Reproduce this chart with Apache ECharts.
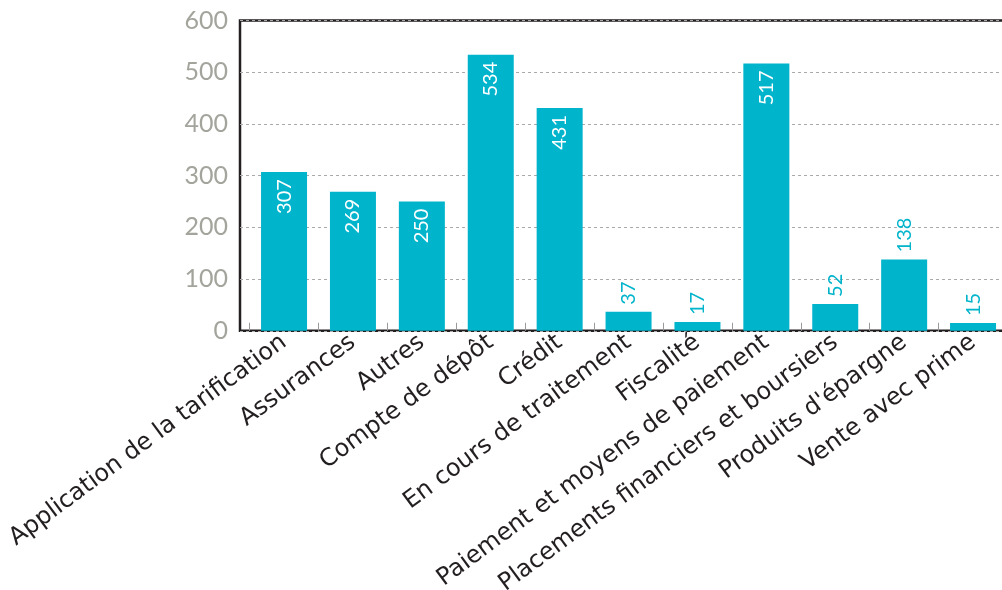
<!DOCTYPE html>
<html>
<head>
<meta charset="utf-8">
<script src="https://cdn.jsdelivr.net/npm/echarts@6/dist/echarts.min.js"></script>
<style>html,body{margin:0;padding:0;background:#fff}#c{width:1002px;height:590px}</style>
</head>
<body>
<div id="c"></div>
<script>
const categories = ["Application de la tarification","Assurances","Autres","Compte de dépôt","Crédit","En cours de traitement","Fiscalité","Paiement et moyens de paiement","Placements financiers et boursiers","Produits d'épargne","Vente avec prime"];
const values = [307, 269, 250, 534, 431, 37, 17, 517, 52, 138, 15];
const yTicks = [0, 100, 200, 300, 400, 500, 600];

const TEAL = '#00b4cc';
const FONT = 'Lato';
const XFONT = 'DejaVu Sans';
const data = values.map(v => v >= 200 ? {
  value: v,
  label: {position: 'insideTop', rotate: 90, align: 'right', verticalAlign: 'middle', distance: 7, color: '#ffffff'}
} : {
  value: v,
  label: {position: 'top', rotate: 90, align: 'left', verticalAlign: 'middle', distance: 7, color: TEAL}
});

const chart = echarts.init(document.getElementById('c'), null, {renderer: 'canvas'});
const gTop = 20.6, gHeight = 310.2;
chart.setOption({
  animation: false,
  grid: [
    {left: 240, top: gTop, width: 800, height: gHeight, show: true, borderColor: '#231f20', borderWidth: 2.5, backgroundColor: 'transparent', outerBoundsMode: 'none', containLabel: false},
    {left: 249.6, top: gTop, width: 757.9, height: gHeight, outerBoundsMode: 'none', containLabel: false}
  ],
  xAxis: [
    {gridIndex: 0, type: 'value', min: 0, max: 1, show: false},
    {gridIndex: 1, type: 'category', data: categories,
     axisLine: {show: false},
     axisTick: {show: true, inside: true, length: 8, lineStyle: {color: '#9a9a9a', width: 1}},
     axisLabel: {rotate: 36.5, margin: 9, color: '#231f20', fontFamily: XFONT, fontSize: 24, interval: 0}
    }
  ],
  yAxis: [
    {gridIndex: 0, type: 'value', min: yTicks[0], max: yTicks[yTicks.length-1], interval: 100,
     axisLine: {show: false}, axisTick: {show: false},
     axisLabel: {color: '#a3a49c', fontFamily: FONT, fontSize: 25, margin: 12},
     splitLine: {show: true, lineStyle: {color: '#aaaaaa', type: [3, 3], width: 1}}
    },
    {gridIndex: 1, type: 'value', min: 0, max: 600, show: false}
  ],
  series: [{
    type: 'bar', xAxisIndex: 1, yAxisIndex: 1, data: data, barWidth: 46,
    itemStyle: {color: TEAL},
    label: {show: true, fontFamily: FONT, fontSize: 20}
  }]
});
</script>
</body>
</html>
